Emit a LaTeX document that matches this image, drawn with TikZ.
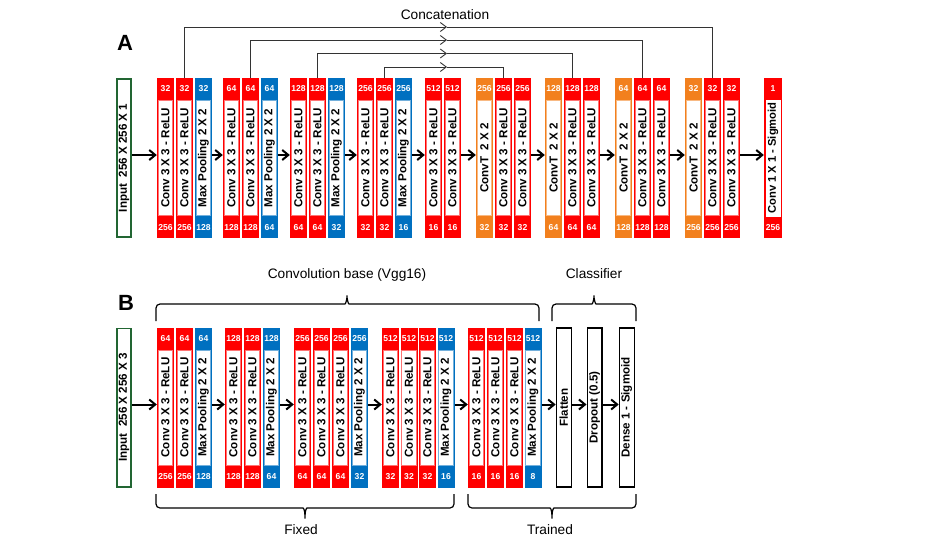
\documentclass[tikz,border=0pt]{standalone}
\usepackage{fontspec}
\setmainfont{Liberation Sans}
\usetikzlibrary{arrows.meta, positioning}

\definecolor{convred}{RGB}{255,0,0}
\definecolor{poolblue}{RGB}{0,112,192}
\definecolor{uporange}{RGB}{242,128,30}
\definecolor{ingreen}{RGB}{34,102,51}

\newcommand{\convtxt}{Conv 3 X 3 - ReLU}
\newcommand{\pooltxt}{Max Pooling 2 X 2}
\newcommand{\uptxt}{ConvT\ \ 2 X 2}

% one layer: name, left x, top y, colour, size on top, size below, text
\newcommand{\netlayer}[7]{%
    \node[layerbox, fill=#4] (#1) at (#2+8.5,#3+80) {};
    \node[layermid, draw=#4!55] at (#1.center) {};
    \node[layertext] at (#1.center) {#7};
    \node[layernum] at ([yshift=-11pt]#1.north) {#5};
    \node[layernum] at ([yshift=11pt]#1.south) {#6};
}

\begin{document}
\begin{tikzpicture}[
    x=1pt, y=-1pt,
    layerbox/.style={
        rectangle,
        minimum width=17pt,
        minimum height=160pt,
        inner sep=0pt,
    },
    layermid/.style={
        rectangle,
        fill=white,
        minimum width=14.4pt,
        minimum height=115pt,
        inner sep=0pt,
        line width=0.8pt,
    },
    layertext/.style={
        rotate=90,
        inner sep=0pt,
        font=\fontsize{11.6}{12}\selectfont\bfseries,
    },
    layernum/.style={
        inner sep=0pt,
        text=white,
        font=\fontsize{8.6}{9}\selectfont\bfseries,
    },
    inbox/.style={
        rectangle,
        draw=ingreen,
        line width=1.8pt,
        fill=white,
        minimum width=14.2pt,
        minimum height=158.2pt,
        inner sep=0pt,
    },
    plainbox/.style={
        rectangle,
        draw=black,
        line width=1.2pt,
        fill=white,
        minimum width=14.8pt,
        minimum height=159pt,
        inner sep=0pt,
    },
    flow/.style={
        line width=2pt,
        -{Straight Barb[length=6pt, width=10pt]},
    },
    concat/.style={
        line width=0.9pt,
        draw=black!80,
    },
    concathead/.style={
        concat,
        -{Straight Barb[length=6pt, width=9pt]},
    },
    bracket/.style={
        line width=1.2pt,
        rounded corners=4pt,
    },
    caption/.style={
        inner sep=0pt,
        text depth=0pt,
        font=\fontsize{13.7}{14}\selectfont,
    },
    panel/.style={
        font=\fontsize{22}{24}\selectfont\bfseries,
    }
]
    \useasboundingbox (0,0) rectangle (926,541);

    % Panel A: U-Net
    \node[panel] at (125,43) {A};
    \node[inbox] (ina) at (124,158) {};
    \node[layertext] at (ina) {Input\ \ 256 X 256 X 1};

    \netlayer{a1}{157}{78}{convred}{32}{256}{\convtxt}
    \netlayer{a2}{176}{78}{convred}{32}{256}{\convtxt}
    \netlayer{a3}{195}{78}{poolblue}{32}{128}{\pooltxt}
    \netlayer{a4}{223}{78}{convred}{64}{128}{\convtxt}
    \netlayer{a5}{242}{78}{convred}{64}{128}{\convtxt}
    \netlayer{a6}{261}{78}{poolblue}{64}{64}{\pooltxt}
    \netlayer{a7}{290}{78}{convred}{128}{64}{\convtxt}
    \netlayer{a8}{309}{78}{convred}{128}{64}{\convtxt}
    \netlayer{a9}{328}{78}{poolblue}{128}{32}{\pooltxt}
    \netlayer{a10}{357}{78}{convred}{256}{32}{\convtxt}
    \netlayer{a11}{376}{78}{convred}{256}{32}{\convtxt}
    \netlayer{a12}{395}{78}{poolblue}{256}{16}{\pooltxt}
    \netlayer{a13}{425}{78}{convred}{512}{16}{\convtxt}
    \netlayer{a14}{444}{78}{convred}{512}{16}{\convtxt}
    \netlayer{a15}{476}{78}{uporange}{256}{32}{\uptxt}
    \netlayer{a16}{495}{78}{convred}{256}{32}{\convtxt}
    \netlayer{a17}{514}{78}{convred}{256}{32}{\convtxt}
    \netlayer{a18}{545}{78}{uporange}{128}{64}{\uptxt}
    \netlayer{a19}{564}{78}{convred}{128}{64}{\convtxt}
    \netlayer{a20}{583}{78}{convred}{128}{64}{\convtxt}
    \netlayer{a21}{615}{78}{uporange}{64}{128}{\uptxt}
    \netlayer{a22}{634}{78}{convred}{64}{128}{\convtxt}
    \netlayer{a23}{653}{78}{convred}{64}{128}{\convtxt}
    \netlayer{a24}{685}{78}{uporange}{32}{256}{\uptxt}
    \netlayer{a25}{704}{78}{convred}{32}{256}{\convtxt}
    \netlayer{a26}{723}{78}{convred}{32}{256}{\convtxt}

    % output layer
    \node[layerbox, fill=convred, minimum width=18pt] (a27) at (773,158) {};
    \node[layermid, minimum width=15pt, minimum height=117pt] at (a27.center) {};
    \node[layertext, font=\fontsize{11.2}{12}\selectfont\bfseries] at (a27.center) {Conv 1 X 1 - Sigmoid};
    \node[layernum] at ([yshift=-11pt]a27.north) {1};
    \node[layernum] at ([yshift=11pt]a27.south) {256};

    \draw[flow] ([yshift=3pt]ina.east) -- ([yshift=3pt]a1.west);
    \draw[flow] ([yshift=3pt]a3.east) -- ([yshift=3pt]a4.west);
    \draw[flow] ([yshift=3pt]a6.east) -- ([yshift=3pt]a7.west);
    \draw[flow] ([yshift=3pt]a9.east) -- ([yshift=3pt]a10.west);
    \draw[flow] ([yshift=3pt]a12.east) -- ([yshift=3pt]a13.west);
    \draw[flow] ([yshift=3pt]a14.east) -- ([yshift=3pt]a15.west);
    \draw[flow] ([yshift=3pt]a17.east) -- ([yshift=3pt]a18.west);
    \draw[flow] ([yshift=3pt]a20.east) -- ([yshift=3pt]a21.west);
    \draw[flow] ([yshift=3pt]a23.east) -- ([yshift=3pt]a24.west);
    \draw[flow] ([yshift=3pt]a26.east) -- ([yshift=3pt]a27.west);

    % Skip connections
    \coordinate (skip1) at (447,27);
    \coordinate (skip2) at (447,40);
    \coordinate (skip3) at (447,53.5);
    \coordinate (skip4) at (447,67);
    \draw[concathead] (a2.north) |- (skip1);
    \draw[concat] (skip1) -| (a25.north);
    \draw[concathead] (a5.north) |- (skip2);
    \draw[concat] (skip2) -| (a22.north);
    \draw[concathead] (a8.north) |- (skip3);
    \draw[concat] (skip3) -| (a19.north);
    \draw[concathead] (a11.north) |- (skip4);
    \draw[concat] (skip4) -| (a16.north);
    \node[caption] at (445,15) {Concatenation};

    % Panel B: Vgg16 transfer
    \node[panel] at (126,303) {B};
    \node[inbox] (inb) at (124,407.5) {};
    \node[layertext] at (inb) {Input\ \ 256 X 256 X 3};

    \netlayer{b1}{157}{327.5}{convred}{64}{256}{\convtxt}
    \netlayer{b2}{176}{327.5}{convred}{64}{256}{\convtxt}
    \netlayer{b3}{195}{327.5}{poolblue}{64}{128}{\pooltxt}
    \netlayer{b4}{225}{327.5}{convred}{128}{128}{\convtxt}
    \netlayer{b5}{244}{327.5}{convred}{128}{128}{\convtxt}
    \netlayer{b6}{263}{327.5}{poolblue}{128}{64}{\pooltxt}
    \netlayer{b7}{294}{327.5}{convred}{256}{64}{\convtxt}
    \netlayer{b8}{313}{327.5}{convred}{256}{64}{\convtxt}
    \netlayer{b9}{332}{327.5}{convred}{256}{64}{\convtxt}
    \netlayer{b10}{351}{327.5}{poolblue}{256}{32}{\pooltxt}
    \netlayer{b11}{382}{327.5}{convred}{512}{32}{\convtxt}
    \netlayer{b12}{400.5}{327.5}{convred}{512}{32}{\convtxt}
    \netlayer{b13}{419}{327.5}{convred}{512}{32}{\convtxt}
    \netlayer{b14}{437.5}{327.5}{poolblue}{512}{16}{\pooltxt}
    \netlayer{b15}{468}{327.5}{convred}{512}{16}{\convtxt}
    \netlayer{b16}{487}{327.5}{convred}{512}{16}{\convtxt}
    \netlayer{b17}{506}{327.5}{convred}{512}{16}{\convtxt}
    \netlayer{b18}{524.5}{327.5}{poolblue}{512}{8}{\pooltxt}

    % classifier
    \node[plainbox] (flat) at (563.7,407.5) {};
    \node[layertext] at (flat) {Flatten};
    \node[plainbox] (drop) at (594.5,407.5) {};
    \node[layertext] at (drop) {Dropout (0.5)};
    \node[plainbox] (dense) at (626.7,407.5) {};
    \node[layertext] at (dense) {Dense 1 - Sigmoid};

    \draw[flow] ([yshift=3pt]inb.east) -- ([yshift=3pt]b1.west);
    \draw[flow] ([yshift=3pt]b3.east) -- ([yshift=3pt]b4.west);
    \draw[flow] ([yshift=3pt]b6.east) -- ([yshift=3pt]b7.west);
    \draw[flow] ([yshift=3pt]b10.east) -- ([yshift=3pt]b11.west);
    \draw[flow] ([yshift=3pt]b14.east) -- ([yshift=3pt]b15.west);
    \draw[flow] ([yshift=3pt]b18.east) -- ([yshift=3pt]flat.west);
    \draw[flow] ([yshift=3pt]flat.east) -- ([yshift=3pt]drop.west);
    \draw[flow] ([yshift=3pt]drop.east) -- ([yshift=3pt]dense.west);

    % Braces
    \draw[bracket] (156,321) -- (156,304) -- (341,304) to[out=0,in=-90] (347,293) coordinate (tipbase) to[out=-90,in=180] (353,304) -- (539,304) -- (539,321);
    \draw[bracket] (552,321) -- (552,304) -- (588,304) to[out=0,in=-90] (594,293) coordinate (tipclass) to[out=-90,in=180] (600,304) -- (636,304) -- (636,321);
    \draw[bracket] (156,494) -- (156,508) -- (299,508) to[out=0,in=90] (305,521) coordinate (tipfixed) to[out=90,in=180] (311,508) -- (454,508) -- (454,494);
    \draw[bracket] (468,494) -- (468,508) -- (546,508) to[out=0,in=90] (552,521) coordinate (tiptrain) to[out=90,in=180] (558,508) -- (636,508) -- (636,494);

    \node[caption, above=14pt of tipbase] {Convolution base (Vgg16)};
    \node[caption, above=14pt of tipclass] {Classifier};
    \node[caption, below=3pt of tipfixed, xshift=-4pt] {Fixed};
    \node[caption, below=3pt of tiptrain, xshift=-2pt] {Trained};
\end{tikzpicture}
\end{document}
